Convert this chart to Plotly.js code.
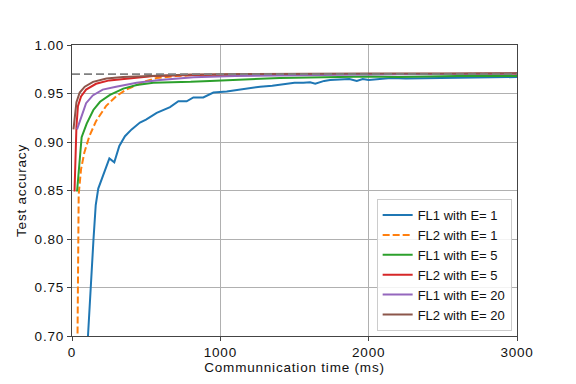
<!DOCTYPE html>
<html>
<head>
<meta charset="utf-8">
<script src="https://cdn.plot.ly/plotly-3.0.1.min.js"></script>
<style>
  html, body { margin: 0; padding: 0; background: #fff; }
  #chart { width: 576px; height: 384px; }
  #chart svg text { letter-spacing: 0.8px; }
  #chart svg .legendtext { letter-spacing: 0; }
</style>
</head>
<body>
<div id="chart"></div>
<script>
// values
const fl1E1_t = [104, 125, 145, 160, 177, 252, 285, 319, 357, 402, 458, 499, 571, 661, 717, 773, 818, 885, 953, 1043, 1133, 1200, 1268, 1350, 1425, 1500, 1560, 1605, 1640, 1700, 1740, 1800, 1870, 1920, 1960, 2000, 2055, 2150, 2250, 2324, 2450, 2600, 2750, 2900, 3000];
const fl1E1_acc = [0.69, 0.75, 0.80, 0.835, 0.852, 0.883, 0.879, 0.896, 0.906, 0.913, 0.920, 0.923, 0.930, 0.936, 0.942, 0.942, 0.946, 0.946, 0.951, 0.952, 0.954, 0.956, 0.957, 0.958, 0.9595, 0.961, 0.961, 0.9615, 0.960, 0.963, 0.964, 0.9645, 0.965, 0.963, 0.965, 0.964, 0.965, 0.966, 0.9655, 0.9656, 0.966, 0.966, 0.9665, 0.967, 0.967];

const fl2E1_t = [33, 45, 61, 83, 117, 162, 229, 297, 364, 413, 503, 571, 700, 850, 1000, 1300, 1600, 2000, 2500, 3000];
const fl2E1_acc = [0.62, 0.846, 0.872, 0.889, 0.906, 0.9215, 0.937, 0.947, 0.954, 0.957, 0.963, 0.966, 0.968, 0.969, 0.9695, 0.970, 0.970, 0.9702, 0.9703, 0.9703];

const fl1E5_t = [34, 65, 99, 144, 189, 256, 346, 436, 548, 706, 800, 930, 1100, 1268, 1400, 1600, 1800, 2000, 2200, 2400, 2600, 2800, 3000];
const fl1E5_acc = [0.849, 0.905, 0.919, 0.933, 0.9415, 0.9485, 0.955, 0.9588, 0.961, 0.9615, 0.962, 0.963, 0.964, 0.9656, 0.966, 0.9665, 0.967, 0.9675, 0.967, 0.9678, 0.968, 0.968, 0.968];

const fl2E5_t = [17, 30, 40, 61, 95, 162, 251, 344, 550, 800, 1100, 1500, 2000, 2500, 3000];
const fl2E5_acc = [0.849, 0.916, 0.937, 0.947, 0.954, 0.960, 0.9635, 0.965, 0.968, 0.969, 0.9695, 0.970, 0.970, 0.970, 0.9705];

const fl1E20_t = [34, 61, 95, 140, 207, 297, 364, 436, 593, 818, 1100, 1500, 2000, 2500, 3000];
const fl1E20_acc = [0.913, 0.926, 0.940, 0.948, 0.954, 0.957, 0.959, 0.961, 0.964, 0.9667, 0.968, 0.969, 0.9695, 0.970, 0.9705];

const fl2E20_t = [10, 30, 52, 86, 142, 232, 344, 500, 800, 1200, 1600, 2000, 2500, 3000];
const fl2E20_acc = [0.913, 0.941, 0.951, 0.957, 0.962, 0.9655, 0.967, 0.968, 0.9695, 0.970, 0.9705, 0.9705, 0.9705, 0.971];

const targetAcc = 0.97;
const timeRange = [0, 3000];

const seriesNames = ["FL1 with E= 1", "FL2 with E= 1", "FL1 with E= 5", "FL2 with E= 5", "FL1 with E= 20", "FL2 with E= 20"];
const colors = ["#1f77b4", "#ff7f0e", "#2ca02c", "#d62728", "#9467bd", "#8c564b"];
const dashes = ["solid", "7px,3px", "solid", "solid", "solid", "solid"];

const xs = [fl1E1_t, fl2E1_t, fl1E5_t, fl2E5_t, fl1E20_t, fl2E20_t];
const ys = [fl1E1_acc, fl2E1_acc, fl1E5_acc, fl2E5_acc, fl1E20_acc, fl2E20_acc];

const traces = seriesNames.map((name, i) => ({
  x: xs[i],
  y: ys[i],
  type: "scatter",
  mode: "lines",
  name: name,
  line: { color: colors[i], width: 2, dash: dashes[i] },
}));

// reference level
traces.push({
  x: timeRange,
  y: [targetAcc, targetAcc],
  type: "scatter",
  mode: "lines",
  showlegend: false,
  hoverinfo: "skip",
  line: { color: "#808080", width: 1.8, dash: "8px,4px" },
});

const fontFam = "Liberation Sans, Arial, sans-serif";

const layout = {
  width: 576,
  height: 384,
  margin: { l: 72, r: 59, t: 45, b: 48 },
  paper_bgcolor: "#fff",
  plot_bgcolor: "#fff",
  font: { family: fontFam, size: 13.5, color: "#111" },
  xaxis: {
    range: timeRange,
    tickvals: [0, 1000, 2000, 3000],
    tickformat: "d",
    ticks: "outside",
    ticklen: 4,
    tickcolor: "#444",
    showline: true,
    mirror: true,
    linecolor: "#444",
    linewidth: 1.2,
    showgrid: true,
    gridcolor: "#b0b0b0",
    gridwidth: 1,
    zeroline: false,
    title: { text: "Communnication time (ms)", font: { size: 13.5 }, standoff: 3 },
  },
  yaxis: {
    range: [0.70, 1.00],
    dtick: 0.05,
    tick0: 0.70,
    tickformat: ".2f",
    ticks: "outside",
    ticklen: 4,
    tickcolor: "#444",
    showline: true,
    mirror: true,
    linecolor: "#444",
    linewidth: 1.2,
    showgrid: true,
    gridcolor: "#b0b0b0",
    gridwidth: 1,
    zeroline: false,
    title: { text: "Test accuracy", font: { size: 13.5 }, standoff: 8 },
  },
  legend: {
    x: 0.988,
    y: 0.017,
    xanchor: "right",
    yanchor: "bottom",
    bgcolor: "rgba(255,255,255,0.85)",
    bordercolor: "#cccccc",
    borderwidth: 1,
    font: { family: fontFam, size: 13, color: "#111" },
  },
  showlegend: true,
};

Plotly.newPlot("chart", traces, layout, { staticPlot: true });
</script>
</body>
</html>
